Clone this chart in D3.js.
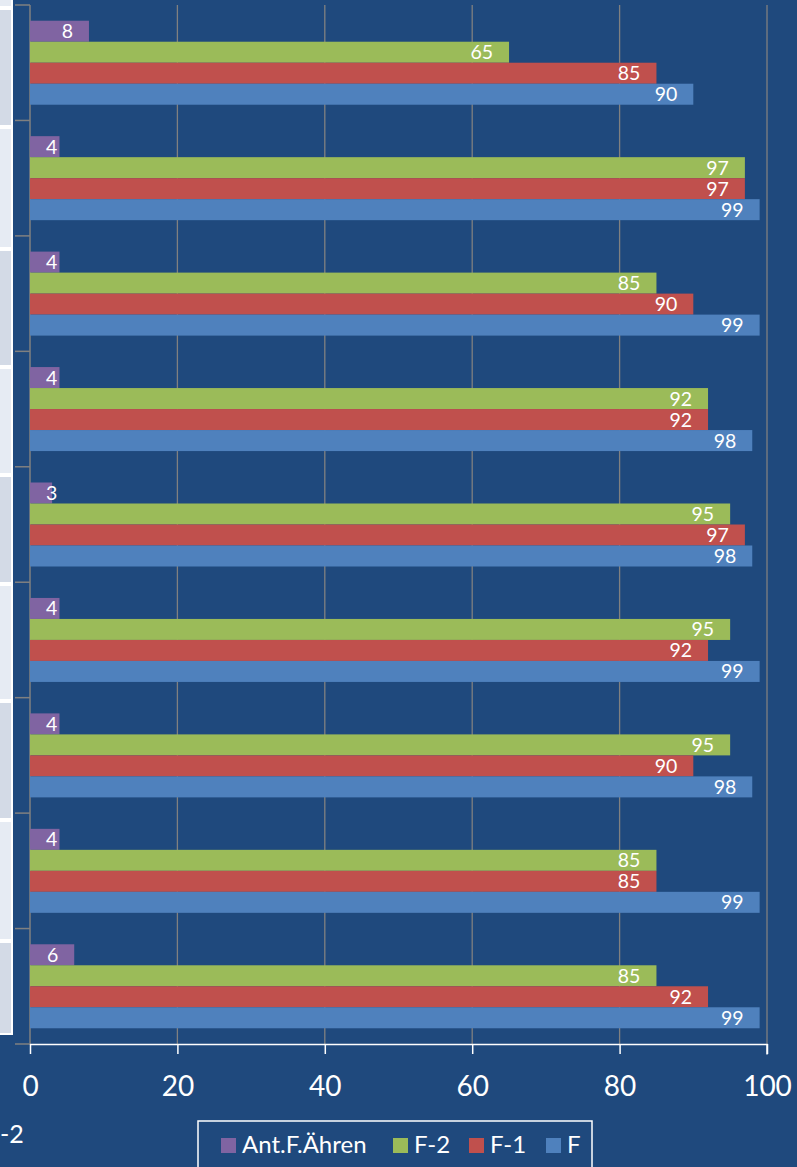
<!DOCTYPE html>
<html>
<head>
<meta charset="utf-8">
<script src="https://cdn.jsdelivr.net/npm/d3@7"></script>
<style>
  html, body { margin: 0; padding: 0; background: #1F497D; }
  svg { display: block; }
</style>
</head>
<body>
<svg id="chart" width="797" height="1167"></svg>
<script>
// ---- data ----
const categories = ["1", "2", "3", "4", "5", "6", "7", "8", "9"];
const seriesNames = ["Ant.F.Ähren", "F-2", "F-1", "F"];
const antFAehren = [8, 4, 4, 4, 3, 4, 4, 4, 6];
const f2 = [65, 97, 85, 92, 95, 95, 95, 85, 85];
const f1 = [85, 97, 90, 92, 97, 92, 90, 85, 92];
const f0 = [90, 99, 99, 98, 98, 99, 98, 99, 99];
const xTicks = [0, 20, 40, 60, 80, 100];

// ---- style / layout ----
const colors = { "Ant.F.Ähren": "#8064A2", "F-2": "#9BBB59", "F-1": "#C0504D", "F": "#4F81BD" };
const bg = "#1F497D";
const font = "Lato, 'Open Sans', sans-serif";
const panelEdges = [8, 127, 249, 367, 475, 584, 701, 820, 941, 1035];

const seriesValues = { "Ant.F.Ähren": antFAehren, "F-2": f2, "F-1": f1, "F": f0 };
const svg = d3.select("#chart");
svg.append("rect").attr("width", 797).attr("height", 1167).attr("fill", bg);

const x = d3.scaleLinear().domain([0, 100]).range([30, 767]);
const pIn = 0.2724;
const y = d3.scaleBand().domain(categories).range([5, 1044]).paddingInner(pIn).paddingOuter(pIn / 2);
const ySub = d3.scaleBand().domain(seriesNames).range([0, y.bandwidth()]).padding(0);
const step = y.step();

// left panels (cut-off category label cells)
svg.append("rect").attr("x", -10).attr("y", -10).attr("width", 22).attr("height", panelEdges[0] + 9)
  .attr("fill", "#E6EBF3").attr("stroke", "#FFFFFF").attr("stroke-width", 2);
for (let i = 0; i < panelEdges.length - 1; i++) {
  svg.append("rect").attr("x", -10).attr("y", panelEdges[i] + 1)
    .attr("width", 22).attr("height", panelEdges[i + 1] - panelEdges[i] - 2)
    .attr("fill", i % 2 === 0 ? "#D3DAE6" : "#E6EBF3")
    .attr("stroke", "#FFFFFF").attr("stroke-width", 2);
}

// gridlines
svg.append("g").selectAll("line").data(xTicks.filter(d => d > 0)).join("line")
  .attr("x1", d => x(d)).attr("x2", d => x(d))
  .attr("y1", 5).attr("y2", 1044)
  .attr("stroke", "#808080").attr("stroke-width", 1.3);

// category axis (gray) with outside ticks at group boundaries
svg.append("line").attr("x1", x(0)).attr("x2", x(0)).attr("y1", 5).attr("y2", 1044)
  .attr("stroke", "#808080").attr("stroke-width", 1.5);
svg.append("g").selectAll("line").data(d3.range(categories.length + 1)).join("line")
  .attr("x1", 15).attr("x2", x(0))
  .attr("y1", i => 5 + i * step).attr("y2", i => 5 + i * step)
  .attr("stroke", "#808080").attr("stroke-width", 1.5);

// bars
const groups = svg.append("g").selectAll("g").data(categories).join("g")
  .attr("transform", c => `translate(0,${y(c)})`);

groups.each(function (c, ci) {
  const g = d3.select(this);
  seriesNames.forEach(s => {
    const v = seriesValues[s][ci];
    g.append("rect")
      .attr("x", x(0)).attr("y", ySub(s))
      .attr("width", x(v) - x(0)).attr("height", ySub.bandwidth())
      .attr("fill", colors[s]);
    const t = g.append("text")
      .attr("y", ySub(s) + ySub.bandwidth() / 2 + 7)
      .attr("fill", "#FFFFFF")
      .attr("font-family", font).attr("font-size", 19.5)
      .attr("text-anchor", "end")
      .text(v);
    const w = t.node().getComputedTextLength();
    t.attr("x", Math.max(x(v) - 16, x(0) + 16 + w));
  });
});

// value axis (white) with ticks
const xAxis = d3.axisBottom(x).tickValues(xTicks).tickSize(10).tickPadding(0);
const ax = svg.append("g").attr("transform", "translate(0,1044)").call(xAxis);
ax.select(".domain").attr("stroke", "#FFFFFF").attr("stroke-width", 1.5)
  .attr("d", `M${x(0)},0.5H${x(100)}V10.5`);
ax.selectAll(".tick line").attr("stroke", "#FFFFFF").attr("stroke-width", 1.5);
ax.selectAll(".tick text").attr("fill", "#FFFFFF")
  .attr("font-family", font).attr("font-size", 28)
  .attr("y", 52).attr("dy", null);

// partially visible text at bottom left
svg.append("text").attr("x", 0).attr("y", 1143)
  .attr("fill", "#FFFFFF").attr("font-family", font).attr("font-size", 25).text("-2");

// legend
const legend = svg.append("g");
legend.append("rect").attr("x", 198).attr("y", 1121).attr("width", 394).attr("height", 80)
  .attr("fill", "none").attr("stroke", "#FFFFFF").attr("stroke-width", 1.5);
const legendX = [221, 393, 469, 546];
seriesNames.forEach((s, i) => {
  legend.append("rect").attr("x", legendX[i]).attr("y", 1138).attr("width", 15).attr("height", 15)
    .attr("fill", colors[s]);
  legend.append("text").attr("x", legendX[i] + 21).attr("y", 1153)
    .attr("fill", "#FFFFFF").attr("font-family", font).attr("font-size", 24).text(s);
});
</script>
</body>
</html>
